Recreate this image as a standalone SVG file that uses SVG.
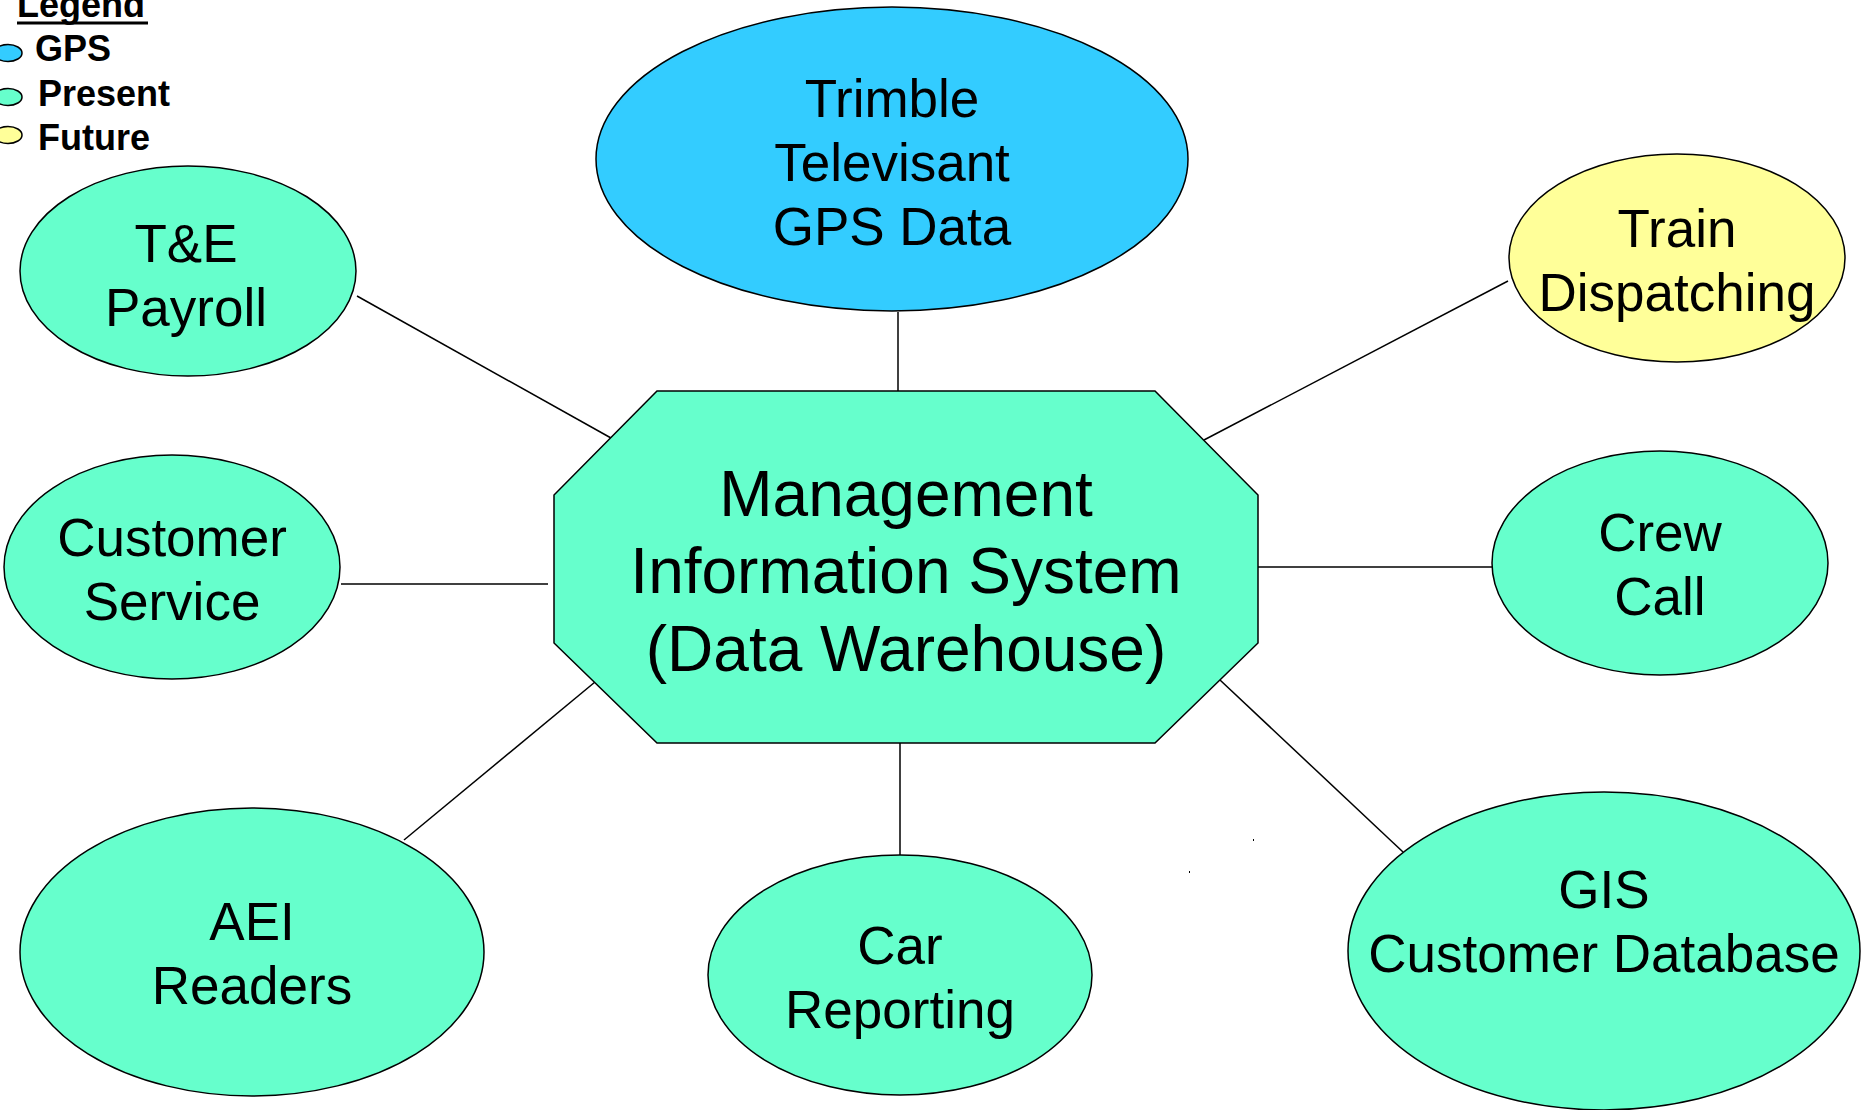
<svg xmlns="http://www.w3.org/2000/svg" width="1865" height="1110" viewBox="0 0 1865 1110">
<style>
.n{stroke:#000;stroke-width:1.5}
.p{fill:#66FFCC}
.g{fill:#33CCFF}
.f{fill:#FFFF99}
.t{font-family:"Liberation Sans",Arial,sans-serif;font-size:53px;fill:#000;text-anchor:middle}
.big{font-size:64px}
.lg{font-family:"Liberation Sans",Arial,sans-serif;font-size:36px;font-weight:bold;fill:#000}
.c line{stroke:#000;stroke-width:1.5}
</style>
<rect width="1865" height="1110" fill="#fff"/>
<g id="legend">
<text class="lg" x="17" y="17">Legend</text>
<line x1="17" y1="23" x2="148" y2="23" stroke="#000" stroke-width="3"/>
<ellipse class="n g" cx="8" cy="53" rx="14" ry="8.5"/>
<text class="lg" x="35" y="61">GPS</text>
<ellipse class="n p" cx="8" cy="97" rx="14" ry="8.5"/>
<text class="lg" x="38" y="106">Present</text>
<ellipse class="n f" cx="8" cy="135" rx="14" ry="8.5"/>
<text class="lg" x="38" y="150">Future</text>
</g>
<g id="connectors" class="c">
<line x1="357" y1="296" x2="611" y2="438"/>
<line x1="898" y1="312" x2="898" y2="391"/>
<line x1="1508" y1="281" x2="1204" y2="440"/>
<line x1="341" y1="584" x2="548" y2="584"/>
<line x1="1254" y1="567" x2="1493" y2="567"/>
<line x1="404" y1="840" x2="595" y2="682"/>
<line x1="900" y1="743" x2="900" y2="855"/>
<line x1="1220" y1="680" x2="1403" y2="852"/>
</g>
<g id="mis">
<polygon class="n p" points="657,391 1155,391 1258,495 1258,643 1155,743 657,743 554,643 554,495"/>
<text class="t big" x="906" y="516">Management</text>
<text class="t big" x="906" y="593">Information System</text>
<text class="t big" x="906" y="671">(Data Warehouse)</text>
</g>
<g id="trimble">
<ellipse class="n g" cx="892" cy="159" rx="296" ry="152"/>
<text class="t" x="892" y="117">Trimble</text>
<text class="t" x="892" y="181">Televisant</text>
<text class="t" x="892" y="245">GPS Data</text>
</g>
<g id="te-payroll">
<ellipse class="n p" cx="188" cy="271" rx="168" ry="105"/>
<text class="t" x="186" y="262">T&amp;E</text>
<text class="t" x="186" y="326">Payroll</text>
</g>
<g id="train-dispatching">
<ellipse class="n f" cx="1677" cy="258" rx="168" ry="104"/>
<text class="t" x="1677" y="247">Train</text>
<text class="t" x="1677" y="311">Dispatching</text>
</g>
<g id="customer-service">
<ellipse class="n p" cx="172" cy="567" rx="168" ry="112"/>
<text class="t" x="172" y="556">Customer</text>
<text class="t" x="172" y="620">Service</text>
</g>
<g id="crew-call">
<ellipse class="n p" cx="1660" cy="563" rx="168" ry="112"/>
<text class="t" x="1660" y="551">Crew</text>
<text class="t" x="1660" y="615">Call</text>
</g>
<g id="aei-readers">
<ellipse class="n p" cx="252" cy="952" rx="232" ry="144"/>
<text class="t" x="252" y="940">AEI</text>
<text class="t" x="252" y="1004">Readers</text>
</g>
<g id="car-reporting">
<ellipse class="n p" cx="900" cy="975" rx="192" ry="120"/>
<text class="t" x="900" y="964">Car</text>
<text class="t" x="900" y="1028">Reporting</text>
</g>
<g id="gis">
<ellipse class="n p" cx="1604" cy="951" rx="256" ry="159"/>
<text class="t" x="1604" y="908">GIS</text>
<text class="t" x="1604" y="972">Customer Database</text>
</g>
<rect x="1253" y="839" width="1" height="2" fill="#000"/>
<rect x="1189" y="871" width="1" height="2" fill="#000"/>
</svg>
